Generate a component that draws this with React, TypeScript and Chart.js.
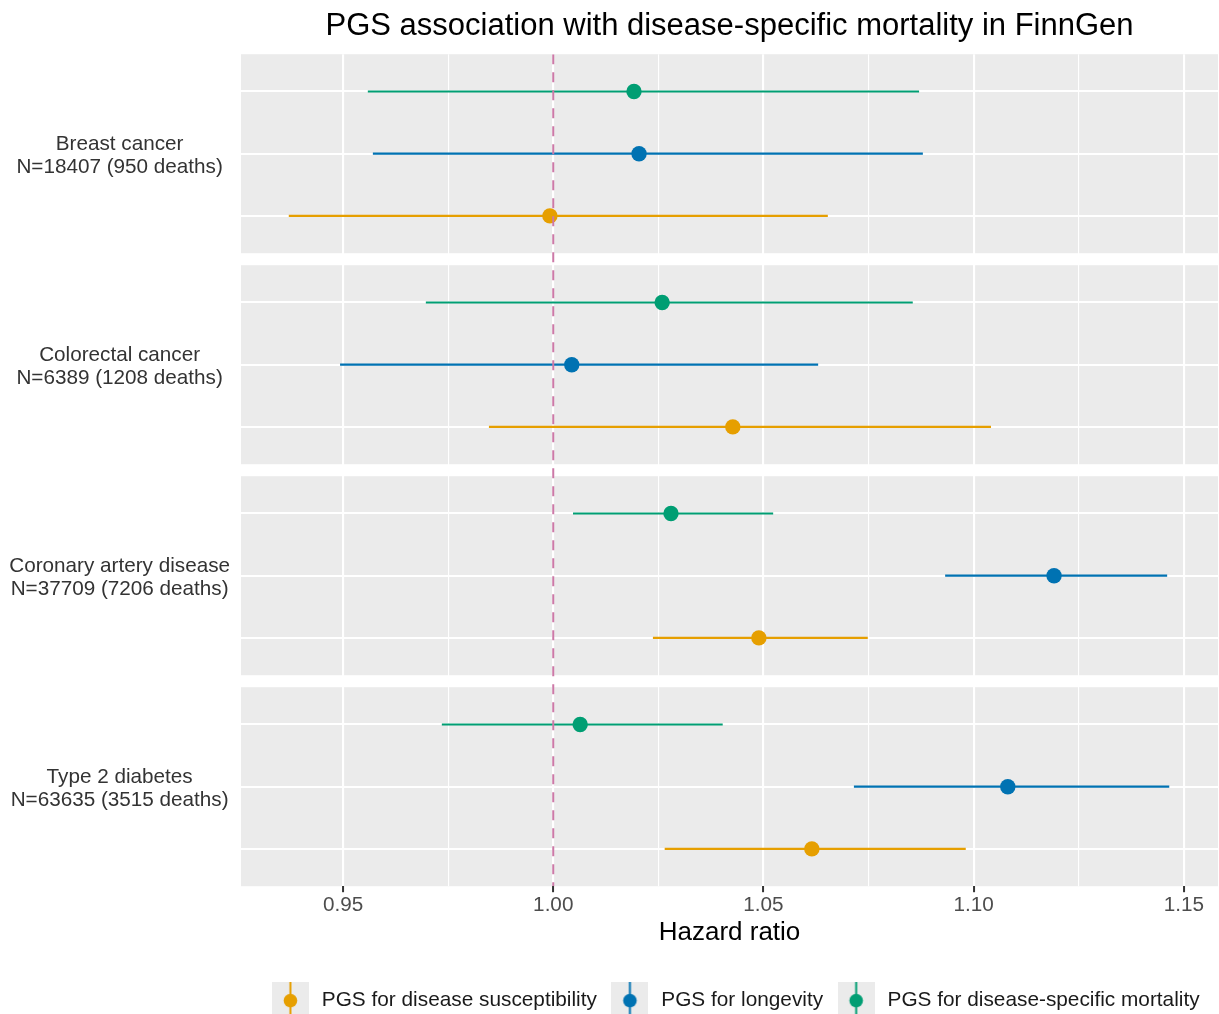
import React, { useEffect, useRef } from "react";
import { Chart, registerables } from "chart.js";

Chart.register(...registerables);

// ---------- data ----------
const diseases = ["Breast cancer", "Colorectal cancer", "Coronary artery disease", "Type 2 diabetes"];
const sampleInfo = ["N=18407 (950 deaths)", "N=6389 (1208 deaths)", "N=37709 (7206 deaths)", "N=63635 (3515 deaths)"];

const seriesNames = ["PGS for disease susceptibility", "PGS for longevity", "PGS for disease-specific mortality"];
const seriesColors = ["#E69F00", "#0072B2", "#009E73"];

// hazard ratios and 95% CI, per disease (order as in diseases)
const susceptibilityHR = [0.9992, 1.0427, 1.0489, 1.0615];
const susceptibilityLo = [0.9371, 0.9847, 1.0237, 1.0265];
const susceptibilityHi = [1.0653, 1.1041, 1.0748, 1.0981];

const longevityHR = [1.0204, 1.0044, 1.1191, 1.1081];
const longevityLo = [0.9571, 0.9493, 1.0932, 1.0715];
const longevityHi = [1.0879, 1.0630, 1.1460, 1.1465];

const mortalityHR = [1.0192, 1.0259, 1.0280, 1.0064];
const mortalityLo = [0.9559, 0.9697, 1.0047, 0.9735];
const mortalityHi = [1.0870, 1.0855, 1.0523, 1.0403];

const xTickValues = [0.95, 0.975, 1.0, 1.025, 1.05, 1.075, 1.1, 1.125, 1.15];
const referenceHR = 1;

// ---------- facet geometry (in y units) ----------
const PANEL = 3.2; // 3 rows + 0.6 expansion each side
const GAP = 0.193;
const Y_MAX = 4 * PANEL + 3 * GAP;
const panelTop = (k: number) => k * (PANEL + GAP);
// row offsets within panel: longevity in the middle, mortality on top, susceptibility at bottom
const rowOffset = [2.6, 1.6, 0.6];

const FONT = "'Liberation Sans', Arial, Helvetica, sans-serif";

function makeKey(color: string): HTMLCanvasElement {
  const c = document.createElement("canvas");
  c.width = 37;
  c.height = 37;
  const g = c.getContext("2d")!;
  g.fillStyle = "#EBEBEB";
  g.fillRect(0, 0, 37, 37);
  g.strokeStyle = color;
  g.lineWidth = 2;
  g.beginPath();
  g.moveTo(18.5, 0);
  g.lineTo(18.5, 37);
  g.stroke();
  g.fillStyle = color;
  g.beginPath();
  g.arc(18.5, 18.5, 6.8, 0, Math.PI * 2);
  g.fill();
  return c;
}

const panelPlugin = {
  id: "panels",
  afterLayout(chart: any) {
    // ggplot centres the legend slightly right of the panel centre
    if (chart.legend) {
      chart.legend.left += 5;
      chart.legend.right += 5;
    }
  },
  beforeDraw(chart: any) {
    const { ctx, chartArea, scales } = chart;
    const ys = scales.y;
    ctx.save();
    ctx.fillStyle = "#EBEBEB";
    for (let k = 0; k < diseases.length; k++) {
      const t = ys.getPixelForValue(panelTop(k));
      const b = ys.getPixelForValue(panelTop(k) + PANEL);
      ctx.fillRect(chartArea.left, t, chartArea.right - chartArea.left, b - t);
    }
    ctx.restore();
  },
};

export default function App() {
  const ref = useRef<HTMLCanvasElement>(null);

  useEffect(() => {
    const hr = [susceptibilityHR, longevityHR, mortalityHR];
    const lo = [susceptibilityLo, longevityLo, mortalityLo];
    const hi = [susceptibilityHi, longevityHi, mortalityHi];

    const rowTicks: number[] = [];
    const rowLabels: (string | string[])[] = [];
    diseases.forEach((d, k) => {
      [0.6, 1.6, 2.6].forEach((off, j) => {
        rowTicks.push(panelTop(k) + off);
        rowLabels.push(j === 1 ? [d, sampleInfo[k]] : "");
      });
    });

    const datasets: any[] = [];
    datasets.push({
      type: "scatter",
      label: "ref",
      data: [
        { x: referenceHR, y: 0 },
        { x: referenceHR, y: Y_MAX },
      ],
      showLine: true,
      borderColor: "#CC79A7",
      borderWidth: 2,
      borderDash: [10, 8],
      pointRadius: 0,
      order: 0,
    });
    seriesNames.forEach((name, s) => {
      datasets.push({
        type: "scatter",
        label: name,
        data: diseases.map((_, k) => ({ x: hr[s][k], y: panelTop(k) + rowOffset[s] })),
        backgroundColor: seriesColors[s],
        borderWidth: 0,
        pointRadius: 7.7,
        order: 1,
      });
    });
    seriesNames.forEach((name, s) => {
      const pts: any[] = [];
      diseases.forEach((_, k) => {
        const y = panelTop(k) + rowOffset[s];
        pts.push({ x: lo[s][k], y }, { x: hi[s][k], y }, { x: null, y: null });
      });
      datasets.push({
        type: "scatter",
        label: name + " CI",
        data: pts,
        showLine: true,
        spanGaps: false,
        borderColor: seriesColors[s],
        borderWidth: 2.2,
        pointRadius: 0,
        order: 2,
      });
    });

    const chart = new Chart(ref.current!, {
      type: "scatter",
      data: { datasets },
      plugins: [panelPlugin],
      options: {
        animation: false,
        responsive: false,
        devicePixelRatio: 1,
        layout: { autoPadding: false, padding: { left: 0, right: 1, top: 0, bottom: -7 } },
        plugins: {
          tooltip: { enabled: false },
          title: {
            display: true,
            text: "PGS association with disease-specific mortality in FinnGen",
            fullSize: false,
            color: "#000",
            font: { family: FONT, size: 31, weight: "normal", lineHeight: 1.2 },
            padding: { top: 8, bottom: 9 },
          },
          legend: {
            display: true,
            position: "bottom",
            fullSize: false,
            labels: {
              usePointStyle: true,
              pointStyleWidth: 42,
              padding: 12,
              color: "#1a1a1a",
              font: { family: FONT, size: 20.8 },
              generateLabels: () =>
                seriesNames.map((n, s) => ({
                  text: n,
                  pointStyle: makeKey(seriesColors[s]),
                  fillStyle: seriesColors[s],
                  strokeStyle: seriesColors[s],
                  lineWidth: 0,
                  hidden: false,
                  datasetIndex: s + 1,
                  fontColor: "#1a1a1a",
                })),
            },
          },
        },
        scales: {
          x: {
            type: "linear",
            min: 0.92574,
            max: 1.15809,
            border: { display: false },
            afterBuildTicks: (scale: any) => {
              scale.ticks = xTickValues.map((v) => ({ value: v }));
            },
            afterFit: (scale: any) => {
              scale.height = 92;
              scale.paddingLeft = 0;
              scale.paddingRight = 0;
            },
            grid: {
              color: "#FFFFFF",
              lineWidth: (c: any) => (c.index % 2 === 0 ? 2.1 : 1.1),
              drawTicks: true,
              tickLength: 6,
              tickWidth: 2,
              tickColor: (c: any) => (c.index % 2 === 0 ? "#333333" : "rgba(0,0,0,0)"),
            },
            ticks: {
              autoSkip: false,
              maxRotation: 0,
              padding: 1,
              color: "#4D4D4D",
              font: { family: FONT, size: 20.7, lineHeight: 1.2 },
              callback: (_v: any, i: number) => (i % 2 === 0 ? xTickValues[i].toFixed(2) : ""),
            },
            title: {
              display: true,
              text: "Hazard ratio",
              color: "#000",
              font: { family: FONT, size: 26, lineHeight: 1.2 },
              padding: { top: 0, bottom: 30 },
            },
          },
          y: {
            type: "linear",
            min: 0,
            max: Y_MAX,
            reverse: true,
            border: { display: false },
            afterBuildTicks: (scale: any) => {
              scale.ticks = rowTicks.map((v) => ({ value: v }));
            },
            afterFit: (scale: any) => {
              scale.width = 241;
            },
            grid: {
              color: "#FFFFFF",
              lineWidth: 2.1,
              drawTicks: false,
            },
            ticks: {
              autoSkip: false,
              crossAlign: "center",
              padding: 11,
              labelOffset: 2,
              color: "#333333",
              font: { family: FONT, size: 20.7, lineHeight: 1.1 },
              callback: (_v: any, i: number) => rowLabels[i],
            },
          },
        },
      } as any,
    } as any);
    return () => chart.destroy();
  }, []);

  return (
    <div style={{ position: "absolute", left: 0, top: 0, width: 1219, height: 1014 }}>
      <canvas ref={ref} width={1219} height={1014} style={{ display: "block", width: 1219, height: 1014 }} />
    </div>
  );
}
